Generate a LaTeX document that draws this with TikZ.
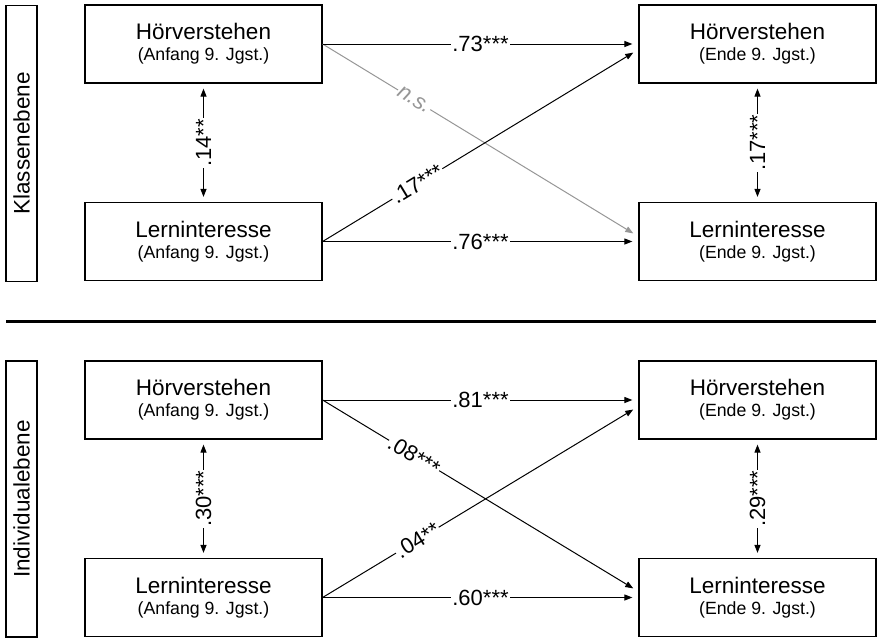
\documentclass[tikz,border=0pt]{standalone}
\usepackage{fontspec}
\setmainfont{Liberation Sans}
\usetikzlibrary{arrows.meta,calc}
\definecolor{nsgray}{RGB}{150,150,150}
\begin{document}
\begin{tikzpicture}[x=1pt,y=-1pt,
  box/.style={draw,line width=1.2pt,minimum width=237pt,minimum height=78pt,inner sep=0pt,align=center,font=\fontsize{22.5}{21}\selectfont},
  side/.style={draw,line width=1.2pt,minimum width=276pt,minimum height=31pt,inner sep=0pt,rotate=90,font=\fontsize{22.5}{24}\selectfont},
  conn/.style={line width=1pt,-{Triangle[length=8pt,width=6pt]},shorten >=6pt},
  dbl/.style={line width=1pt,{Triangle[length=8pt,width=6pt]}-{Triangle[length=8pt,width=6pt]},shorten >=5pt,shorten <=5pt},
  lab/.style={fill=white,inner sep=1pt,font=\fontsize{22}{22}\selectfont}
]
\useasboundingbox (0,0) rectangle (881,641);
\newcommand{\subl}[1]{{\fontsize{17.7}{21}\selectfont #1}}
% upper panel
\node[side] (k) at (21.5,143.3) {Klassenebene};
\node[box] (h1) at (203.5,44) {Hörverstehen\\\subl{(Anfang 9. Jgst.)}};
\node[box] (l1) at (203.5,241.5) {Lerninteresse\\\subl{(Anfang 9. Jgst.)}};
\node[box] (h2) at (757.5,44) {Hörverstehen\\\subl{(Ende 9. Jgst.)}};
\node[box] (l2) at (757.5,241.5) {Lerninteresse\\\subl{(Ende 9. Jgst.)}};
\draw[conn,nsgray] (h1.east) -- node[lab,sloped,pos=0.29,text=nsgray]{\textit{n.s.}} ($(l2.west)+(0,-5)$);
\draw[conn] (h1.east) -- node[lab]{.73***} (h2.west);
\draw[conn] (l1.east) -- node[lab]{.76***} (l2.west);
\draw[conn] (l1.east) -- node[lab,sloped,pos=0.3]{.17***} ($(h2.west)+(0,5.5)$);
\draw[dbl] (h1.south) -- node[lab,rotate=90]{.14**} (l1.north);
\draw[dbl] (h2.south) -- node[lab,rotate=90]{.17***} (l2.north);
% separator
\coordinate (s1) at (6,321.7);
\coordinate (s2) at (876,321.7);
\draw[line width=3pt] (s1) -- (s2);
% lower panel
\node[side] (i) at (21.5,499) {Individualebene};
\node[box] (h3) at (203.5,400) {Hörverstehen\\\subl{(Anfang 9. Jgst.)}};
\node[box] (l3) at (203.5,597.5) {Lerninteresse\\\subl{(Anfang 9. Jgst.)}};
\node[box] (h4) at (757.5,400) {Hörverstehen\\\subl{(Ende 9. Jgst.)}};
\node[box] (l4) at (757.5,597.5) {Lerninteresse\\\subl{(Ende 9. Jgst.)}};
\draw[conn] (h3.east) -- node[lab]{.81***} (h4.west);
\draw[conn] (l3.east) -- node[lab]{.60***} (l4.west);
\draw[conn] (h3.east) -- node[lab,sloped,pos=0.29]{.08***} ($(l4.west)+(0,-6)$);
\draw[conn] (l3.east) -- node[lab,sloped,pos=0.3]{.04**} ($(h4.west)+(0,6.4)$);
\draw[dbl] (h3.south) -- node[lab,rotate=90]{.30***} (l3.north);
\draw[dbl] (h4.south) -- node[lab,rotate=90]{.29***} (l4.north);
\end{tikzpicture}
\end{document}
